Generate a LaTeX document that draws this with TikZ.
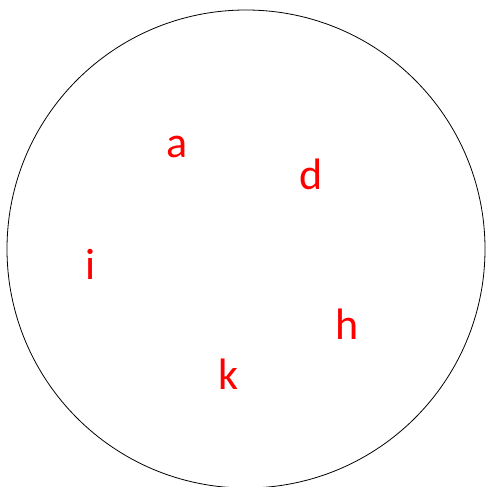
\documentclass[tikz,border=0pt]{standalone}
\usepackage{fontspec}
\setmainfont{Carlito}
\begin{document}
\begin{tikzpicture}[x=1pt,y=-1pt,
  lbl/.style={text=red,font=\fontsize{44}{44}\selectfont,inner sep=0pt,anchor=base}]
\useasboundingbox (0,0) rectangle (485,487);
\node[draw,circle,minimum size=478pt,inner sep=0pt,line width=0.8pt] (c) at (246,249) {};
\node[lbl] (a) at (177,157) {a};
\node[lbl] (d) at (311,189) {d};
\node[lbl] (i) at (91,279) {i};
\node[lbl] (h) at (347,339) {h};
\node[lbl] (k) at (228,389) {k};
\end{tikzpicture}
\end{document}
